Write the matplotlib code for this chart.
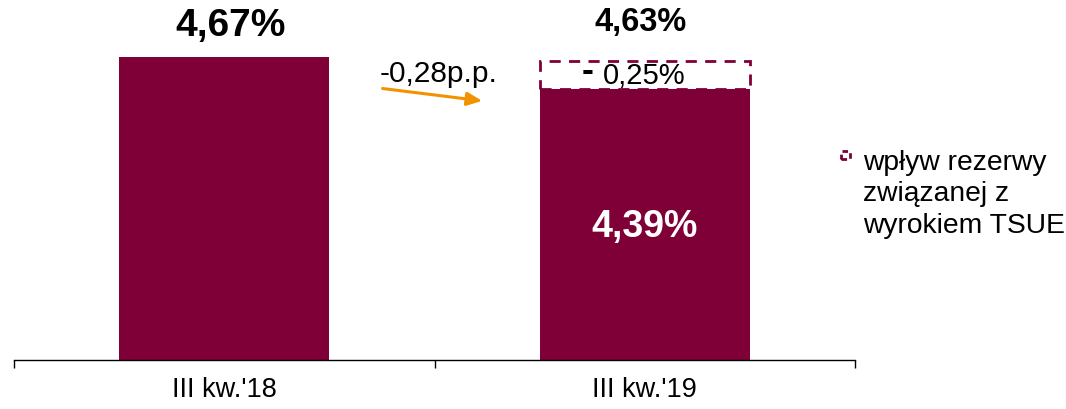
import matplotlib.pyplot as plt
from matplotlib.patches import Rectangle

plt.rcParams['font.family'] = ['Liberation Sans', 'DejaVu Sans']

# data
categories = ["III kw.'18", "III kw.'19"]
values = [4.67, 4.39]           # solid bars
reserve_impact = [0.0, 0.24]    # dashed part on top
top_labels = ['4,67%', '4,63%']
inner_label = '4,39%'
reserve_label = '0,25%'
change_label = '-0,28p.p.'
legend_label = 'wpływ rezerwy\nzwiązanej z\nwyrokiem TSUE'

BAR = '#7f0037'
ORANGE = '#f39200'


def main():
    fig = plt.figure(figsize=(10.66, 4.09), dpi=100)
    ax = fig.add_axes([14 / 1066, 1 - 360 / 409, 841 / 1066, 360 / 409])

    x = list(range(len(categories)))
    ax.bar(x, values, width=0.5, color=BAR, zorder=2)
    ax.bar(x[1], reserve_impact[1], bottom=values[1], width=0.5, fill=False,
           edgecolor=BAR, linewidth=2, linestyle=(0, (4, 3)), zorder=3)

    ax.set_xlim(-0.5, 1.5)
    ax.set_ylim(2, 2 + 360 / 113.5)

    for s in ['top', 'right', 'left']:
        ax.spines[s].set_visible(False)
    ax.spines['bottom'].set_linewidth(1)
    ax.set_yticks([])
    ax.set_xticks([-0.5, 0.5, 1.5])
    ax.set_xticklabels([])
    ax.tick_params(axis='x', which='major', direction='out', length=6, width=1)
    ax.set_xticks(x, minor=True)
    ax.set_xticklabels(categories, minor=True, fontsize=19.5)
    ax.tick_params(axis='x', which='minor', length=0, pad=12)

    # value labels
    ax.annotate(top_labels[0], (x[0] + 0.015, values[0]), xytext=(0, 22),
                textcoords='offset points', ha='center', va='center',
                fontsize=28, fontweight='bold')
    ax.annotate(top_labels[1], (x[1] - 0.01, values[1] + reserve_impact[1]), xytext=(0, 28),
                textcoords='offset points', ha='center', va='center',
                fontsize=23.5, fontweight='bold')
    ax.text(x[1], 3.17, inner_label, ha='center', va='center',
            fontsize=27, fontweight='bold', color='white')
    mid = values[1] + reserve_impact[1] / 2
    ax.text(x[1] - 0.135, mid + 0.03, '-', ha='center', va='center',
            fontsize=26, fontweight='bold')
    ax.text(x[1] - 0.002, mid - 0.01, reserve_label, ha='center', va='center', fontsize=21)

    # change arrow
    ax.text(0.369, 4.52, change_label, ha='left', va='center', fontsize=21.5)
    ax.annotate('', xy=(0.62, 4.28), xytext=(0.37, 4.395),
                arrowprops=dict(arrowstyle='-|>,head_length=0.9,head_width=0.4',
                                color=ORANGE, lw=2.2))

    # legend
    fig.patches.append(Rectangle((841 / 1066, 1 - 159 / 409), 9 / 1066, 8 / 409,
                                 transform=fig.transFigure, fill=False, edgecolor=BAR,
                                 linewidth=2, linestyle=(0, (2, 1.5))))
    fig.text(863 / 1066, 1 - 150 / 409, legend_label, ha='left', va='top',
             fontsize=20.3, linespacing=1.27)

    fig.savefig('out.png', dpi=100)


if __name__ == '__main__':
    main()
